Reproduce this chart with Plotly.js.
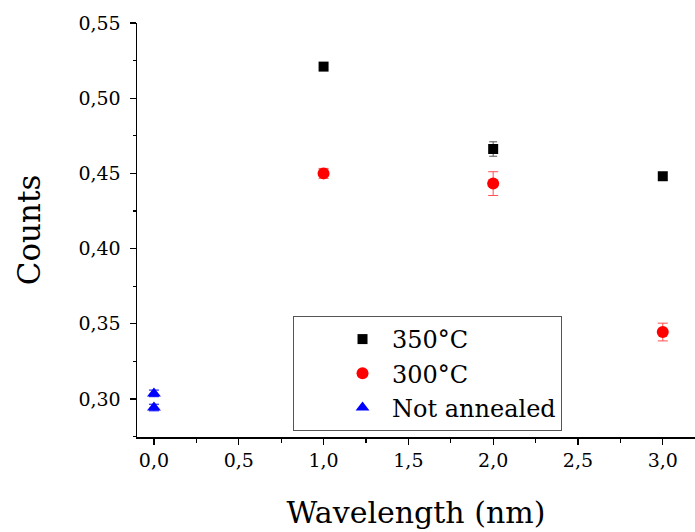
<!DOCTYPE html>
<html>
<head>
<meta charset="utf-8">
<script src="https://cdn.plot.ly/plotly-3.0.1.min.js"></script>
<style>html,body{margin:0;padding:0;background:#fff;overflow:hidden}</style>
</head>
<body>
<div id="chart" style="width:695px;height:532px"></div>
<script>
// Data
const x350 = [1, 2, 3];
const y350 = [0.521, 0.4662, 0.4481];
const e350 = [0.001, 0.0048, 0.001];

const x300 = [1, 2, 3];
const y300 = [0.4500, 0.4432, 0.3445];
const e300 = [0.0033, 0.0079, 0.0059];

const xNA = [0, 0];
const yNA = [0.3037, 0.2943];
const eNA = [0.0022, 0.0022];

const names = ["350°C", "300°C", "Not annealed"];

const FONT = "DejaVu Serif";

const traces = [
  {x: x350, y: y350, name: names[0], type: 'scatter', mode: 'markers',
   marker: {symbol: 'square', size: 10, color: '#000000'},
   error_y: {type: 'data', array: e350, visible: true, color: '#555555', thickness: 1, width: 4}},
  {x: x300, y: y300, name: names[1], type: 'scatter', mode: 'markers',
   marker: {symbol: 'circle', size: 12, color: '#ff0000'},
   error_y: {type: 'data', array: e300, visible: true, color: '#ff5050', thickness: 1, width: 5}},
  {x: xNA, y: yNA, name: names[2], type: 'scatter', mode: 'markers',
   marker: {symbol: 'triangle-up', size: 12, color: '#0000ff'},
   error_y: {type: 'data', array: eNA, visible: true, color: '#0000ff', thickness: 1, width: 5}}
];

const xr = [-0.1, 3.19];
const layout = {
  width: 695, height: 532,
  margin: {l: 137, r: 0, t: 23, b: 95, pad: 0},
  paper_bgcolor: '#ffffff', plot_bgcolor: '#ffffff',
  separators: ', ',
  font: {family: FONT, color: '#000000', size: 19},
  showlegend: true,
  legend: {
    x: 0.2796, y: 0.2923, xanchor: 'left', yanchor: 'top',
    bordercolor: '#555555', borderwidth: 1, bgcolor: '#ffffff',
    font: {family: FONT, size: 24, color: '#000000'},
    indentation: 39, itemwidth: 49, tracegroupgap: 0
  },
  xaxis: {
    range: xr, domain: [0, 1],
    tickmode: 'linear', tick0: 0, dtick: 0.5, tickformat: '.1f',
    ticks: 'outside', ticklen: 6, tickwidth: 1.2, tickcolor: '#000',
    minor: {dtick: 0.25, tick0: 0, ticks: 'outside', ticklen: 4, tickwidth: 1.2, tickcolor: '#000', showgrid: false},
    showline: true, linecolor: '#000', linewidth: 1.5,
    showgrid: false, zeroline: false,
    tickfont: {family: FONT, size: 19, color: '#000'},
    title: {text: 'Wavelength (nm)', font: {family: FONT, size: 30, color: '#000'}, standoff: 31}
  },
  xaxis2: {
    overlaying: 'x', side: 'top', range: xr, anchor: 'y',
    tickmode: 'linear', tick0: 0, dtick: 0.5,
    ticks: 'inside', ticklen: 6, tickwidth: 1.2, tickcolor: '#000',
    minor: {dtick: 0.25, tick0: 0, ticks: 'inside', ticklen: 4, tickwidth: 1.2, tickcolor: '#000', showgrid: false},
    showline: true, linecolor: '#000', linewidth: 1.5,
    showticklabels: false, showgrid: false, zeroline: false
  },
  yaxis: {
    range: [0.2747, 0.55], domain: [0, 1],
    tickmode: 'linear', tick0: 0.3, dtick: 0.05, tickformat: '.2f',
    ticks: 'outside', ticklen: 6, tickwidth: 1.2, tickcolor: '#000',
    minor: {dtick: 0.025, tick0: 0.3, ticks: 'outside', ticklen: 3, tickwidth: 1.2, tickcolor: '#000', showgrid: false},
    showline: true, linecolor: '#000', linewidth: 1.5,
    showgrid: false, zeroline: false, ticklabelstandoff: 5,
    tickfont: {family: FONT, size: 19, color: '#000'},
    title: {text: 'Counts', font: {family: FONT, size: 31, color: '#000'}, standoff: 28}
  }
};

Plotly.newPlot('chart', traces, layout, {displayModeBar: false, staticPlot: true});
</script>
</body>
</html>
